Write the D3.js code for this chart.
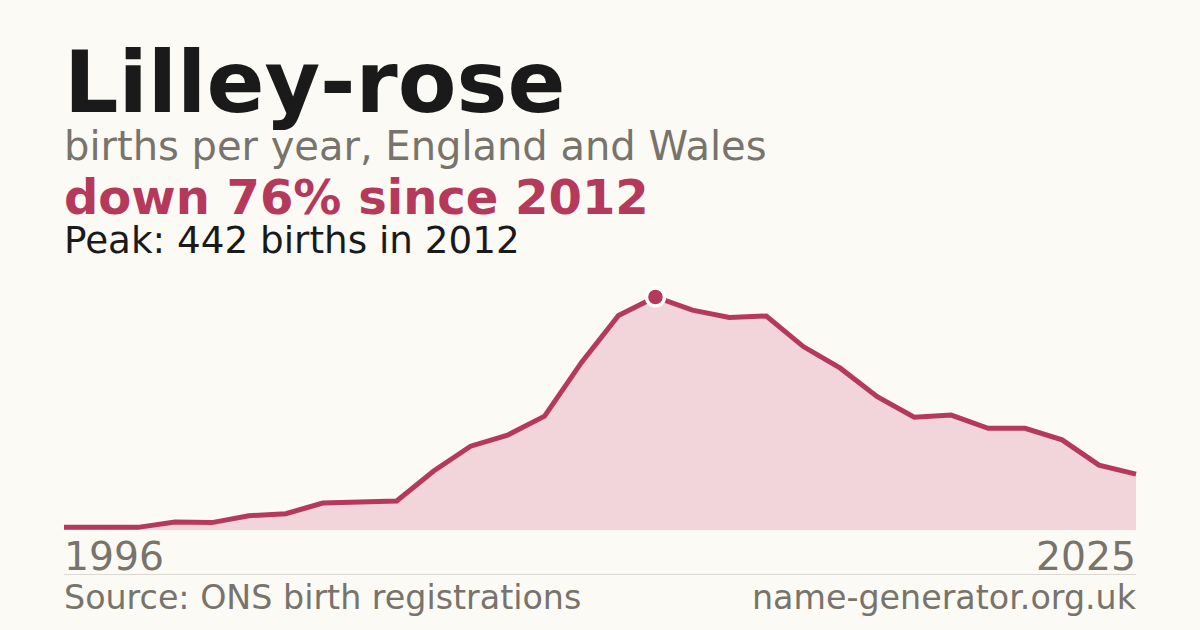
<!DOCTYPE html>
<html>
<head>
<meta charset="utf-8">
<script src="https://cdn.jsdelivr.net/npm/d3@7"></script>
<style>
  html, body { margin: 0; padding: 0; background: #fbfaf5; }
  svg { display: block; }
  text { font-family: "DejaVu Sans", sans-serif; }
</style>
</head>
<body>
<svg id="chart" width="1200" height="630"></svg>
<script>
const years = [1996,1997,1998,1999,2000,2001,2002,2003,2004,2005,2006,2007,2008,2009,2010,2011,2012,2013,2014,2015,2016,2017,2018,2019,2020,2021,2022,2023,2024,2025];
const births = [5,5,5,15,14,27,31,51,53,55,112,159,180,216,318,407,442,417,403,406,348,307,253,214,218,193,193,171,123,106];
const titleText = "Lilley-rose";
const subtitleText = "births per year, England and Wales";
const changeText = "down 76% since 2012";
const peakText = "Peak: 442 births in 2012";
const startLabel = "1996";
const endLabel = "2025";
const sourceText = "Source: ONS birth registrations";
const siteText = "name-generator.org.uk";

const svg = d3.select("#chart");
const W = 1200, H = 630;
svg.append("rect").attr("width", W).attr("height", H).attr("fill", "#fbfaf5");

const left = 64, right = 1136, bottom = 530;
const x = d3.scaleLinear().domain([d3.min(years), d3.max(years)]).range([left, right]);
const y = d3.scaleLinear().domain([0, d3.max(births)]).range([bottom, 297]);

const data = years.map((yr, i) => ({ year: yr, value: births[i] }));

const lineColor = "#b5395a";

svg.append("path")
  .datum(data)
  .attr("fill", "#f2d5da")
  .attr("d", d3.area().x(d => x(d.year)).y0(bottom).y1(d => y(d.value)));

svg.append("path")
  .datum(data)
  .attr("fill", "none")
  .attr("stroke", lineColor)
  .attr("stroke-width", 5)
  .attr("stroke-linejoin", "miter")
  .attr("d", d3.line().x(d => x(d.year)).y(d => y(d.value)));

const peak = data.reduce((a, b) => (b.value > a.value ? b : a));
svg.append("circle")
  .attr("cx", x(peak.year))
  .attr("cy", y(peak.value))
  .attr("r", 9)
  .attr("fill", lineColor)
  .attr("stroke", "#ffffff")
  .attr("stroke-width", 3.5);

// Titles
svg.append("text").attr("x", 64).attr("y", 112)
  .attr("font-size", 85.5).attr("font-weight", "bold").attr("fill", "#1a1a1a")
  .text(titleText);
svg.append("text").attr("x", 64).attr("y", 160)
  .attr("font-size", 40).attr("fill", "#78736b")
  .text(subtitleText);
svg.append("text").attr("x", 64).attr("y", 214)
  .attr("font-size", 48).attr("font-weight", "bold").attr("fill", lineColor)
  .text(changeText);
svg.append("text").attr("x", 64).attr("y", 253)
  .attr("font-size", 37.3).attr("fill", "#1a1a1a")
  .text(peakText);

// Year labels
svg.append("text").attr("x", x(years[0])).attr("y", 570)
  .attr("font-size", 39.3).attr("fill", "#78736b")
  .text(startLabel);
svg.append("text").attr("x", x(years[years.length - 1])).attr("y", 570)
  .attr("text-anchor", "end")
  .attr("font-size", 39.3).attr("fill", "#78736b")
  .text(endLabel);

// Separator
svg.append("line").attr("x1", left).attr("x2", right).attr("y1", 574.5).attr("y2", 574.5)
  .attr("stroke", "#dcd9d2").attr("stroke-width", 1);

// Footer
svg.append("text").attr("x", 64).attr("y", 609)
  .attr("font-size", 33.3).attr("fill", "#78736b")
  .text(sourceText);
svg.append("text").attr("x", 1136).attr("y", 609)
  .attr("text-anchor", "end")
  .attr("font-size", 33.3).attr("fill", "#78736b")
  .text(siteText);
</script>
</body>
</html>
